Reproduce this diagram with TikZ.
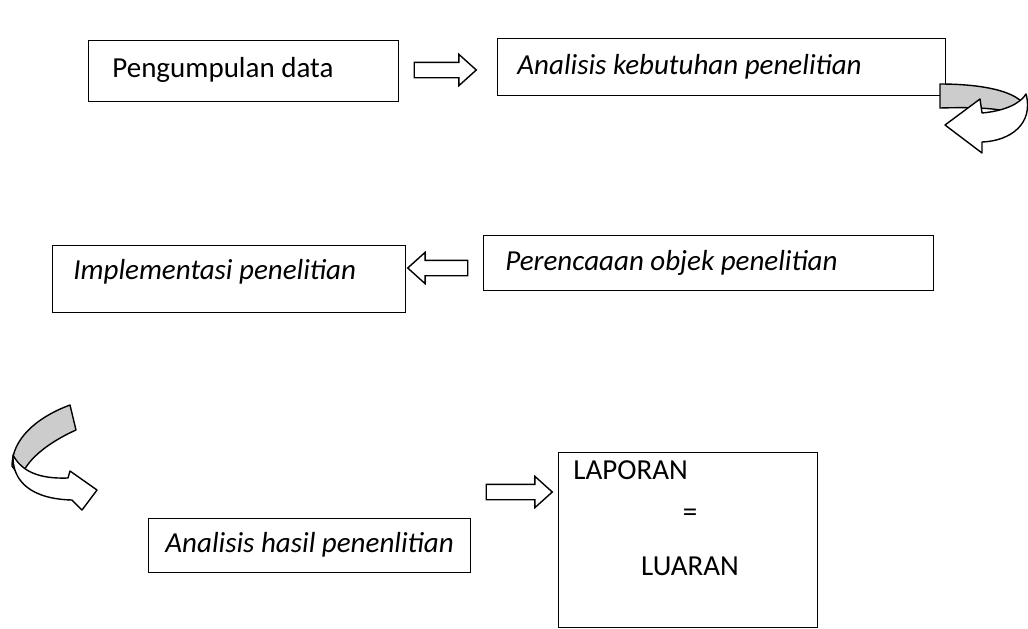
\documentclass[tikz,border=0pt]{standalone}
\usepackage{fontspec}
\setmainfont{Carlito}
\usetikzlibrary{shapes.arrows}

\begin{document}
\begin{tikzpicture}[x=0.5pt,y=-0.5pt,box/.style={draw,line width=0.7pt,rectangle,inner sep=0pt,anchor=north west},
  lbl/.style={anchor=west,inner sep=0pt,font=\fontsize{14.5}{17}\selectfont},
  ilbl/.style={lbl,font=\fontsize{14.5}{17}\selectfont\itshape},
  blockarrow/.style={draw,line width=0.7pt,fill=white,single arrow,inner sep=3.5pt,single arrow head extend=4pt,single arrow tip angle=84},
  curvearrow/.style={draw,line width=0.7pt,line join=round}]

            \useasboundingbox (0,0) rectangle (1028,628);

            \node[box, minimum width=155pt, minimum height=30.5pt] (1) at (88,40) {};
            \node[box, minimum width=224pt, minimum height=28.5pt] (2) at (497,38) {};
            \node[box, minimum width=176.5pt, minimum height=33.5pt] (3) at (52,245) {};
            \node[box, minimum width=225pt, minimum height=27.5pt] (4) at (483,235) {};
            \node[box, minimum width=161pt, minimum height=27pt] (5) at (148,518) {};
            \node[box, minimum width=129.5pt, minimum height=87.5pt] (6) at (558,452) {};

            \node[lbl] (t1) at (112,70) {Pengumpulan data};
            \node[ilbl] (t2) at (517,67) {Analisis kebutuhan penelitian};
            \node[ilbl] (t3) at (73,272) {Implementasi penelitian};
            \node[ilbl] (t4) at (505,263) {Perencaaan objek penelitian};
            \node[ilbl] (t5) at (165,545) {Analisis hasil penenlitian};
            \node[lbl] (t6) at (573,470) {LAPORAN};
            \node[lbl,anchor=center] (t7) at (690,515) {=};
            \node[lbl,anchor=center] (t8) at (690,566) {LUARAN};

            \node[blockarrow, minimum height=31pt] (a1) at (441,70) {};
            \node[blockarrow, minimum height=30pt, shape border rotate=180] (a2) at (442,268) {};
            \node[blockarrow, minimum height=33pt] (a3) at (515,492) {};

            % curved arrow from 2 down to 4
            \draw[curvearrow, fill=black!20] (940,84) .. controls (990,84) and (1024,94) .. (1026,110)
                -- (1016,114) .. controls (1000,108) and (975,107) .. (940,108) -- cycle;
            \draw[curvearrow, fill=white] (1026,94) .. controls (1034,124) and (1010,141) .. (982,142)
                -- (982,153) -- (945,125) -- (980,99) -- (982,113)
                .. controls (1004,111) and (1020,104) .. (1026,94) -- cycle;

            % curved arrow from 3 down to 5
            \draw[curvearrow, fill=black!20] (70,405) -- (76,430) .. controls (45,444) and (25,462) .. (21,478)
                -- (12,466) .. controls (12,440) and (35,418) .. (70,405) -- cycle;
            \draw[curvearrow, fill=white] (13,455) .. controls (12,482) and (32,499) .. (72,500)
                -- (82,510) -- (97,490) -- (70,471) -- (68,478)
                .. controls (40,479) and (22,472) .. (13,455) -- cycle;

            ;
        \end{tikzpicture}
\end{document}
